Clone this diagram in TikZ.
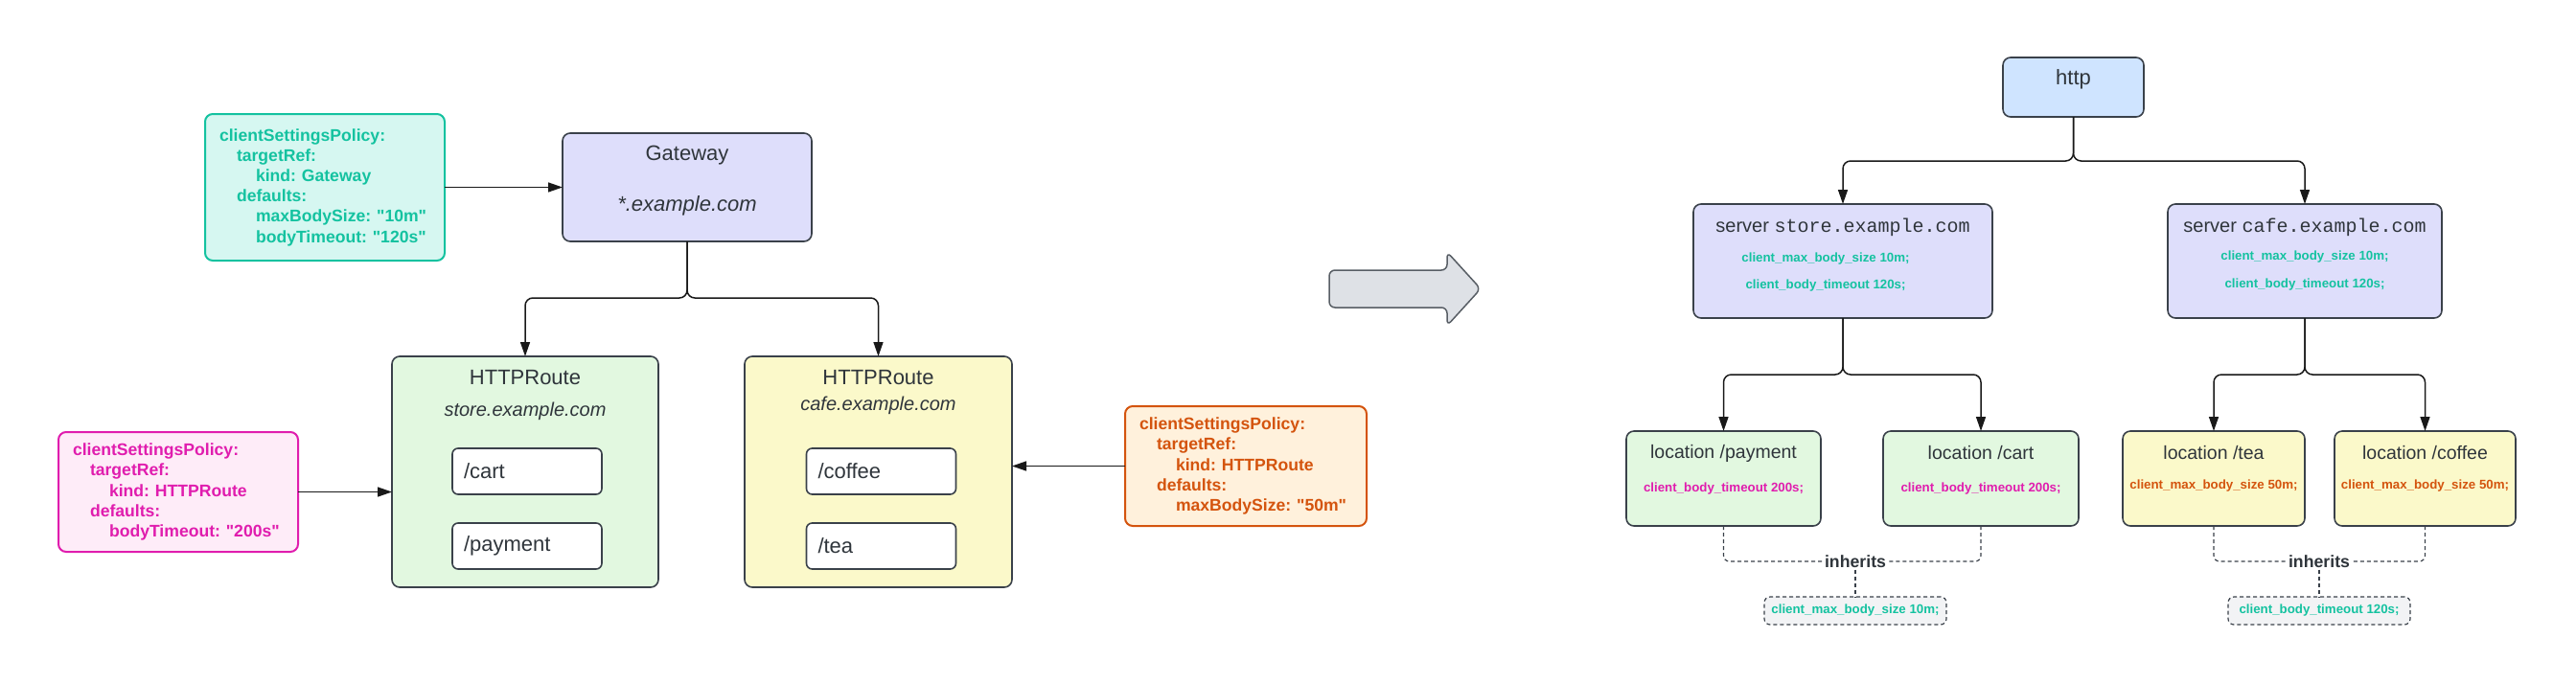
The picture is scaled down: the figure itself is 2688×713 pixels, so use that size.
\documentclass[tikz,border=0pt]{standalone}
\usepackage{fontspec}
\setmainfont{Liberation Sans}
\setmonofont{Liberation Mono}
\usetikzlibrary{arrows.meta}
\frenchspacing

\definecolor{ink}{HTML}{3A414A}
\definecolor{txt}{HTML}{2F353B}
\definecolor{tealtxt}{HTML}{14C2A0}
\definecolor{tealbg}{HTML}{D6F7F1}
\definecolor{pinktxt}{HTML}{E01DAE}
\definecolor{pinkbg}{HTML}{FEECF8}
\definecolor{orgtxt}{HTML}{D4540E}
\definecolor{orgbg}{HTML}{FFF1DC}
\definecolor{lavbg}{HTML}{DEDEFB}
\definecolor{greenbg}{HTML}{E2F8E0}
\definecolor{yellowbg}{HTML}{FBF9CA}
\definecolor{bluebg}{HTML}{CFE4FF}
\definecolor{greybg}{HTML}{DEE1E6}
\definecolor{paleg}{HTML}{F2F3F5}

\newcommand{\titlefont}{\fontsize{11pt}{13pt}\selectfont}
\newcommand{\hostfont}{\fontsize{10pt}{12pt}\selectfont}
\newcommand{\locfont}{\fontsize{9.75pt}{12pt}\selectfont}
\newcommand{\policyfont}{\fontsize{8.8pt}{10.6pt}\selectfont\bfseries}
\newcommand{\detailfont}{\fontsize{6.65pt}{8pt}\selectfont\bfseries}
\newcommand{\inhfont}{\fontsize{8.85pt}{10pt}\selectfont\bfseries}
\newcommand{\qq}[1]{\textquotedbl#1\textquotedbl}

\begin{document}
\begin{tikzpicture}[x=0.5pt,y=-0.5pt,inner sep=0pt,outer sep=0pt,
	box/.style={draw=ink,line width=0.8pt,rounded corners=4pt},
	policy/.style={line width=1pt,rounded corners=4pt,align=left,inner xsep=7.5pt,font=\policyfont},
	routebox/.style={box,fill=white,rounded corners=3pt,text width=66pt,align=left,inner xsep=6pt,minimum height=24pt,font=\titlefont,text=txt},
	boxtitle/.style={font=\titlefont,text=txt},
	boxhost/.style={font=\hostfont\itshape,text=txt},
	loctitle/.style={font=\locfont,text=txt},
	detail/.style={font=\detailfont},
	conn/.style={draw=black!90,line width=0.75pt,-{Triangle[length=7.5pt,width=5pt]}},
	fork/.style={conn,rounded corners=4pt},
	inhline/.style={draw=ink,line width=0.6pt,dash pattern=on 2pt off 1.5pt,rounded corners=3pt},
	inhnote/.style={fill=white,inner xsep=1.5pt,inner ysep=1pt,font=\inhfont,text=txt},
	basebox/.style={inhline,fill=paleg,minimum width=95pt,minimum height=14.5pt,font=\detailfont,text=tealtxt}]
	\useasboundingbox (0,0) rectangle (2688,713);

	\node[policy,draw=tealtxt,fill=tealbg,text=tealtxt,text width=110pt,minimum height=76.5pt] (gwpolicy) at (339,195.5) {clientSettingsPolicy:\\
		\hspace*{9pt}targetRef:\\
		\hspace*{19pt}kind: Gateway\\
		\hspace*{9pt}defaults:\\
		\hspace*{19pt}maxBodySize: \qq{10m}\\
		\hspace*{19pt}bodyTimeout: \qq{120s}};
	\node[box,fill=lavbg,minimum width=130pt,minimum height=56.5pt] (gw) at (717,195.5) {};
	\node[boxtitle] (gwname) at (717,162) {Gateway};
	\node[boxtitle,font=\titlefont\itshape] (gwhost) at (717,215) {*.example.com};

	\node[box,fill=greenbg,minimum width=139pt,minimum height=120.5pt] (storert) at (548,492.5) {};
	\node[boxtitle] (storename) at (548,394) {HTTPRoute};
	\node[boxhost] (storehost) at (548,429) {store.example.com};
	\node[routebox] (cart) at (550,492) {/cart};
	\node[routebox] (payment) at (550,570) {/payment};

	\node[box,fill=yellowbg,minimum width=139.5pt,minimum height=120.5pt] (cafert) at (916.5,492.5) {};
	\node[boxtitle] (cafename) at (916.5,394) {HTTPRoute};
	\node[boxhost] (cafehost) at (916.5,423) {cafe.example.com};
	\node[routebox] (coffee) at (919.5,492) {/coffee};
	\node[routebox] (tea) at (919.5,570) {/tea};

	\node[policy,draw=pinktxt,fill=pinkbg,text=pinktxt,text width=110pt,minimum height=62.5pt] (storepolicy) at (186,513.5) {clientSettingsPolicy:\\
		\hspace*{9pt}targetRef:\\
		\hspace*{19pt}kind: HTTPRoute\\
		\hspace*{9pt}defaults:\\
		\hspace*{19pt}bodyTimeout: \qq{200s}};
	\node[policy,draw=orgtxt,fill=orgbg,text=orgtxt,text width=111pt,minimum height=62.5pt] (cafepolicy) at (1300,486.5) {clientSettingsPolicy:\\
		\hspace*{9pt}targetRef:\\
		\hspace*{19pt}kind: HTTPRoute\\
		\hspace*{9pt}defaults:\\
		\hspace*{19pt}maxBodySize: \qq{50m}};

	\coordinate (gwfork) at (717,311);
	\draw[conn] (gwpolicy) -- (gw);
	\draw[fork] (gw.south) -- (gwfork) -| (storert.north);
	\draw[fork] (gw.south) -- (gwfork) -| (cafert.north);
	\draw[conn] (storepolicy.east) -- (storepolicy.east -| storert.west);
	\draw[conn] (cafepolicy.west) -- (cafepolicy.west -| cafert.east);

	\draw[draw=ink!85,fill=greybg,line width=0.75pt,rounded corners=3pt]
		(1387,282) -- (1510,282) -- (1510,263) -- (1545,301.5) -- (1510,340) -- (1510,321) -- (1387,321) -- cycle;

	\node[box,fill=bluebg,minimum width=73.5pt,minimum height=31pt] (http) at (2163.5,91) {};
	\node[boxtitle] (httpname) at (2163.5,83) {http};

	\node[box,fill=lavbg,minimum width=156pt,minimum height=59.5pt] (srvstore) at (1923,272.5) {};
	\node[boxtitle,font=\hostfont] (srvstorename) at (1923,237) {server \texttt{store.example.com}};
	\node[detail,text=tealtxt] (srvstoresize) at (1905,270) {client\_max\_body\_size 10m;};
	\node[detail,text=tealtxt] (srvstoretime) at (1905,298) {client\_body\_timeout 120s;};

	\node[box,fill=lavbg,minimum width=143pt,minimum height=59.5pt] (srvcafe) at (2405,272.5) {};
	\node[boxtitle,font=\hostfont] (srvcafename) at (2405,237) {server \texttt{cafe.example.com}};
	\node[detail,text=tealtxt] (srvcafesize) at (2405,268) {client\_max\_body\_size 10m;};
	\node[detail,text=tealtxt] (srvcafetime) at (2405,297) {client\_body\_timeout 120s;};

	\node[box,fill=greenbg,minimum width=101.5pt,minimum height=49.5pt] (locpay) at (1798.5,499.5) {};
	\node[loctitle] (locpayname) at (1798.5,473) {location /payment};
	\node[detail,text=pinktxt] (locpaytime) at (1798.5,510) {client\_body\_timeout 200s;};

	\node[box,fill=greenbg,minimum width=102pt,minimum height=49.5pt] (loccart) at (2067,499.5) {};
	\node[loctitle] (loccartname) at (2067,473) {location /cart};
	\node[detail,text=pinktxt] (loccarttime) at (2067,510) {client\_body\_timeout 200s;};

	\node[box,fill=yellowbg,minimum width=95pt,minimum height=49.5pt] (loctea) at (2310,499.5) {};
	\node[loctitle] (locteaname) at (2310,473) {location /tea};
	\node[detail,text=orgtxt] (locteasize) at (2310,507) {client\_max\_body\_size 50m;};

	\node[box,fill=yellowbg,minimum width=94.5pt,minimum height=49.5pt] (loccoffee) at (2530.5,499.5) {};
	\node[loctitle] (loccoffeename) at (2530.5,473) {location /coffee};
	\node[detail,text=orgtxt] (loccoffeesize) at (2530.5,507) {client\_max\_body\_size 50m;};

	\coordinate (httpfork) at (2163.5,168);
	\coordinate (storefork) at (1923,391);
	\coordinate (cafefork) at (2405,391);
	\draw[fork] (http.south) -- (httpfork) -| (srvstore.north);
	\draw[fork] (http.south) -- (httpfork) -| (srvcafe.north);
	\draw[fork] (srvstore.south) -- (storefork) -| (locpay.north);
	\draw[fork] (srvstore.south) -- (storefork) -| (loccart.north);
	\draw[fork] (srvcafe.south) -- (cafefork) -| (loctea.north);
	\draw[fork] (srvcafe.south) -- (cafefork) -| (loccoffee.north);

	\node[inhnote] (storeinh) at (1936,586) {inherits};
	\node[basebox] (storebase) at (1936,637.5) {client\_max\_body\_size 10m;};
	\draw[inhline] (locpay.south) |- (storeinh.west);
	\draw[inhline] (loccart.south) |- (storeinh.east);
	\draw[inhline] (storeinh.south) -- (storebase.north);

	\node[inhnote] (cafeinh) at (2420,586) {inherits};
	\node[basebox] (cafebase) at (2420,637.5) {client\_body\_timeout 120s;};
	\draw[inhline] (loctea.south) |- (cafeinh.west);
	\draw[inhline] (loccoffee.south) |- (cafeinh.east);
	\draw[inhline] (cafeinh.south) -- (cafebase.north);
\end{tikzpicture}
\end{document}
